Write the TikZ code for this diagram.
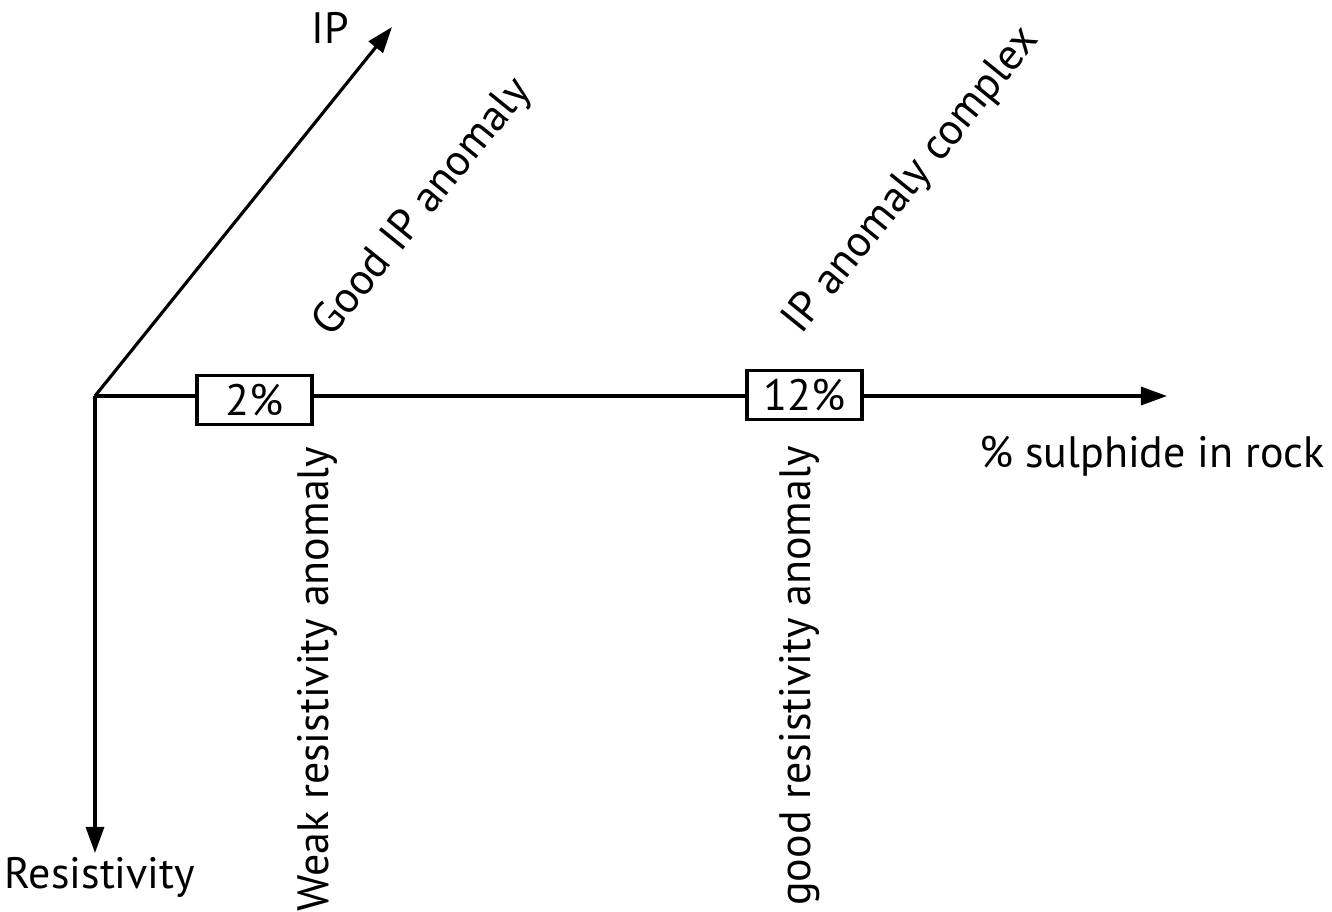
\documentclass[tikz,border=0pt]{standalone}
\usepackage{fontspec}
\setmainfont{PT Sans}
\usepackage{tikz}
\usetikzlibrary{positioning,calc,arrows.meta}

\begin{document}
\begin{tikzpicture}[x=0.01cm, y=-0.01cm,
    axis/.style={line width=0.9pt, -{Triangle[length=0.26cm,width=0.18cm]}},
    seg/.style={line width=0.9pt},
    pctbox/.style={draw, line width=0.9pt, fill=white, minimum width=1.15cm, minimum height=0.49cm, inner sep=0pt},
    lbl/.style={inner sep=0pt, font=\fontsize{12.5}{15}\selectfont}]
    \useasboundingbox (0,0) rectangle (1332,911);

    % Axes
    \coordinate (O) at (95,396);
    \coordinate (iptip) at (392,27);
    \coordinate (restip) at (95,853);
    \coordinate (sulphtip) at (1167,396);
    \draw[axis] (O) -- (iptip);
    \draw[axis] (O) -- (restip);

    % Percentage boxes
    \node[pctbox, lbl] (p2) at (254.5,400) {2\%};
    \node[pctbox, lbl] (p12) at (804.5,395) {12\%};
    \draw[seg] (O) -- (O -| p2.west);
    \draw[seg] (O -| p2.east) -- (O -| p12.west);
    \draw[axis] (O -| p12.east) -- (sulphtip);

    % Axis labels
    \node[lbl] (ip) at (330,28) {IP};
    \node[lbl] (res) at (100,877) {Resistivity};
    \node[lbl] (sulph) at (1152,456) {\% sulphide in rock};

    % Anomaly labels
    \node[lbl, rotate=51] (goodip) at (423,208) {Good IP anomaly};
    \node[lbl, rotate=51] (ipcomplex) at (912,181) {IP anomaly complex};
    \node[lbl, rotate=90] (weakres) at (317,679) {Weak resistivity anomaly};
    \node[lbl, rotate=90] (goodres) at (800,676) {good resistivity anomaly};
\end{tikzpicture}
\end{document}
